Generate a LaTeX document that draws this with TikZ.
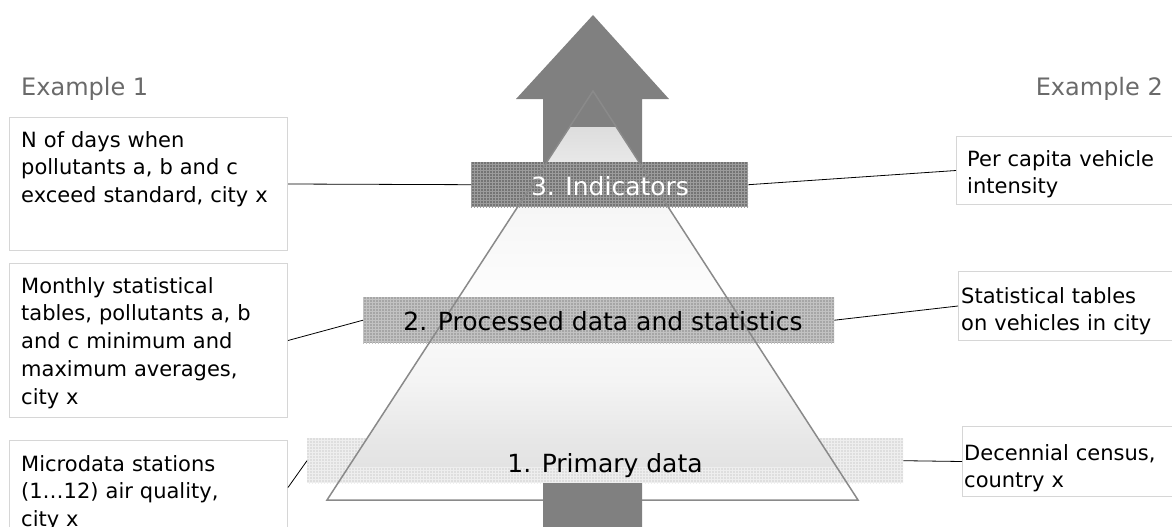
\documentclass[tikz,border=0pt]{standalone}
\usepackage{fontspec}
\setmainfont{DejaVu Sans}
\usetikzlibrary{patterns}

\definecolor{arrowgray}{HTML}{808080}
\definecolor{edgegray}{HTML}{8A8A8A}
\definecolor{boxgray}{HTML}{D6D6D6}
\definecolor{headgray}{HTML}{6A6A6A}
\definecolor{darkband}{HTML}{747474}
\definecolor{darkgrid}{HTML}{9C9C9C}
\definecolor{midband}{HTML}{A6A6A6}
\definecolor{midgrid}{HTML}{C2C2C2}
\definecolor{lightband}{HTML}{DEDEDE}
\definecolor{lightgrid}{HTML}{EEEEEE}
\definecolor{pyrA}{HTML}{E3E3E3}
\definecolor{pyrB}{HTML}{E7E7E7}
\definecolor{pyrC}{HTML}{F4F4F4}
\definecolor{pyrD}{HTML}{FDFDFD}
\definecolor{pyrE}{HTML}{F6F6F6}
\definecolor{pyrF}{HTML}{DDDDDD}

\pgfdeclareverticalshading{pyramidfill}{100bp}{%
  color(0bp)=(pyrA); color(25bp)=(pyrA); color(28.8bp)=(pyrB);
  color(37.7bp)=(pyrC); color(49.5bp)=(pyrD); color(63.2bp)=(pyrE);
  color(75bp)=(pyrF); color(100bp)=(pyrF)}

\newcommand\lblfont{\fontsize{21}{27.8}\selectfont}
\newcommand\bandfont{\fontsize{25}{30}\selectfont}
\newcommand\exfont{\fontsize{24}{28}\selectfont}

\begin{document}
\begin{tikzpicture}[x=1pt,y=-1pt,
  box/.style={draw=boxgray, line width=1pt, fill=white, inner sep=0pt, anchor=north west},
  boxtext/.style={anchor=base west, text width=265pt, align=left, inner sep=0pt, font=\lblfont},
  band/.style={inner sep=0pt, anchor=north west, draw=none},
  darkstrip/.style={band, fill=darkband, postaction={pattern=grid, pattern color=darkgrid}},
  midstrip/.style={band, fill=midband, postaction={pattern=grid, pattern color=midgrid}},
  lightstrip/.style={band, fill=lightband, postaction={pattern=grid, pattern color=lightgrid}},
  bandlabel/.style={anchor=base, inner sep=0pt, font=\bandfont},
  heading/.style={inner sep=0pt, text=headgray, font=\exfont},
  link/.style={draw=black, line width=0.8pt}]

\useasboundingbox (0,0) rectangle (1172,527);
\clip (0,0) rectangle (1172,527);

% upward arrow behind the pyramid
\fill[arrowgray] (593,15) -- (669,99) -- (642,99) -- (642,530) -- (543,530)
  -- (543,99) -- (516,99) -- cycle;

% level 1 strip
\node[lightstrip, minimum width=596pt, minimum height=45pt] (b1) at (307,438) {};

% pyramid body with soft vertical gradient
\begin{scope}
  \clip (593,91) -- (858,500) -- (327,500) -- cycle;
  \shade[shading=pyramidfill] (320,127) rectangle (866,466);
\end{scope}

% level 2 and level 3 strips
\node[midstrip, minimum width=471pt, minimum height=46pt] (b2) at (363,297) {};
\node[darkstrip, minimum width=277pt, minimum height=45pt] (b3) at (471,162) {};

% pyramid outline
\draw[edgegray, line width=1.5pt, line join=miter] (593,91) -- (858,500) -- (327,500) -- cycle;

% arrow foot below the pyramid
\fill[arrowgray] (543,483) rectangle (642,530);

% example boxes
\node[box, minimum width=278pt, minimum height=133pt] (L3) at (9,117) {};
\node[box, minimum width=278pt, minimum height=154pt] (L2) at (9,263) {};
\node[box, minimum width=278pt, minimum height=94pt] (L1) at (9,440) {};
\node[box, minimum width=230pt, minimum height=68pt] (R3) at (956,136) {};
\node[box, minimum width=230pt, minimum height=69pt] (R2) at (958,271) {};
\node[box, minimum width=230pt, minimum height=70pt] (R1) at (962,426) {};

% connectors
\draw[link] (L3.east) -- (b3.west);
\draw[link] (b3.east) -- (R3.west);
\draw[link] (L2.east) -- (b2.west);
\draw[link] (b2.east) -- (R2.west);
\draw[link] (L1.east) -- (b1.west);
\draw[link] (b1.east) -- (R1.west);

% level labels
\node[bandlabel, text=white] (t3) at (610,195) {3. Indicators};
\node[bandlabel, text=black] (t2) at (603,330) {2. Processed data and statistics};
\node[bandlabel, text=black] (t1) at (605,472) {1. Primary data};

% column headings
\node[heading, anchor=base west] (ex1) at (21,95) {Example 1};
\node[heading, anchor=base east] (ex2) at (1163,95) {Example 2};

% box texts
\node[boxtext] (tL3) at (21,147) {N of days when\\pollutants a, b and c\\exceed standard, city x};
\node[boxtext] (tL2) at (21,293) {Monthly statistical\\tables, pollutants a, b\\and c minimum and\\maximum averages,\\city x};
\node[boxtext] (tL1) at (21,471) {Microdata stations\\(1…12) air quality,\\city x};
\node[boxtext] (tR3) at (967,166) {Per capita vehicle\\intensity};
\node[boxtext] (tR2) at (961,303) {Statistical tables\\on vehicles in city};
\node[boxtext] (tR1) at (964,460) {Decennial census,\\country x};

\end{tikzpicture}
\end{document}
